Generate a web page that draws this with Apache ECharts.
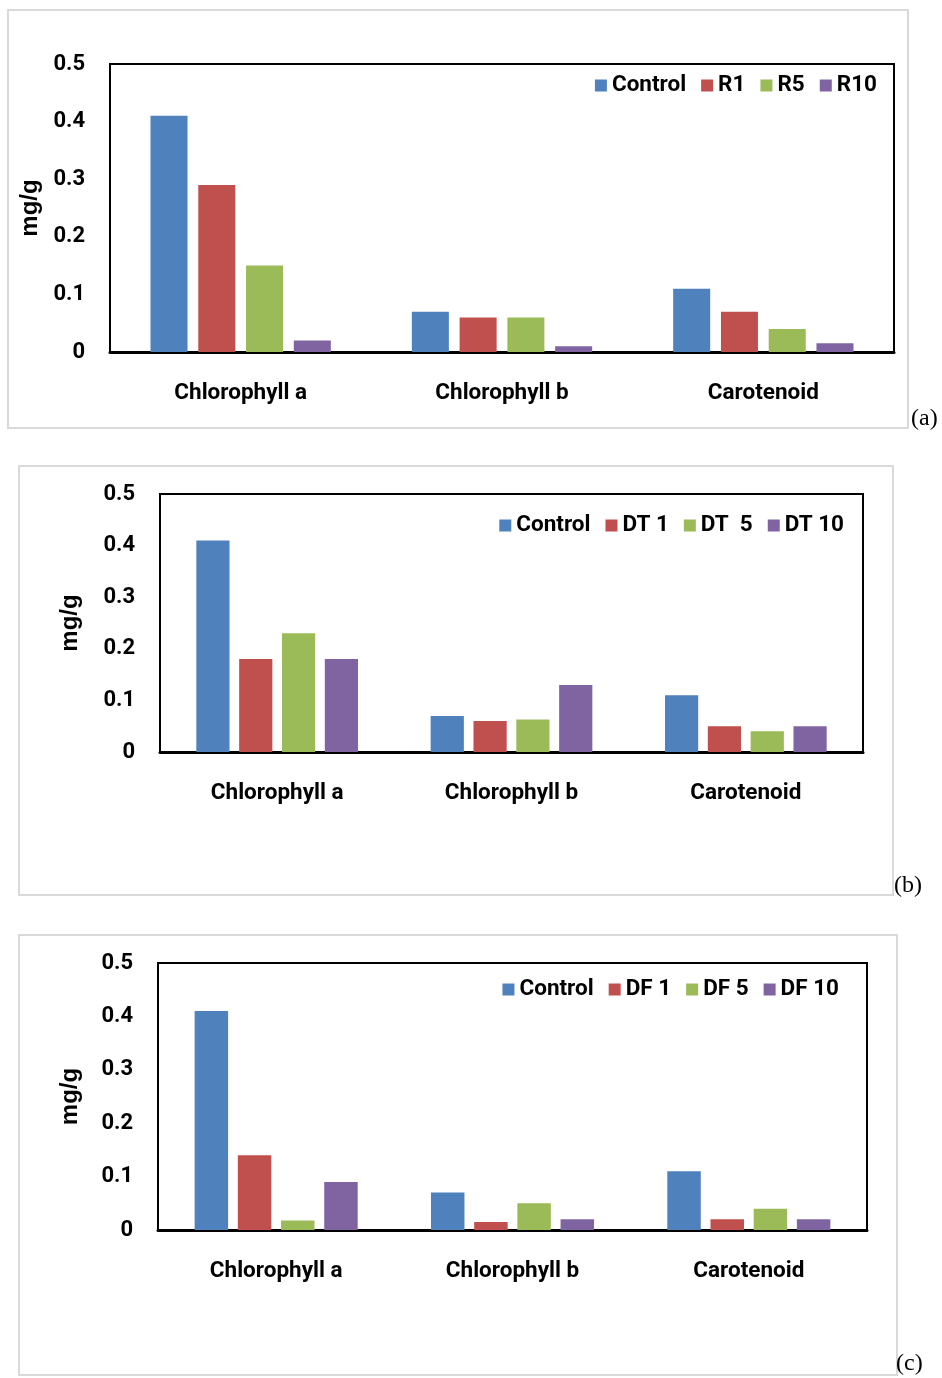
<!DOCTYPE html>
<html>
<head>
<meta charset="utf-8">
<script src="https://cdn.jsdelivr.net/npm/echarts@6/dist/echarts.min.js"></script>
<style>
  html, body { margin: 0; padding: 0; background: #fff; }
  #chart { width: 942px; height: 1378px; }
</style>
</head>
<body>
<div id="chart"></div>
<script>
// categories and series
const categories = ['Chlorophyll a', 'Chlorophyll b', 'Carotenoid'];
const colors = ['#4F81BD', '#C0504D', '#9BBB59', '#8064A2'];

const namesA = ['Control', 'R1', 'R5', 'R10'];
const controlA = [0.41, 0.07, 0.11];
const r1 = [0.29, 0.06, 0.07];
const r5 = [0.15, 0.06, 0.04];
const r10 = [0.02, 0.01, 0.015];

const namesB = ['Control', 'DT 1', 'DT  5', 'DT 10'];
const controlB = [0.41, 0.07, 0.11];
const dt1 = [0.18, 0.06, 0.05];
const dt5 = [0.23, 0.063, 0.04];
const dt10 = [0.18, 0.13, 0.05];

const namesC = ['Control', 'DF 1', 'DF 5', 'DF 10'];
const controlC = [0.41, 0.07, 0.11];
const df1 = [0.14, 0.015, 0.02];
const df5 = [0.018, 0.05, 0.04];
const df10 = [0.09, 0.02, 0.02];

const yMin = 0, yMax = 0.5, yStep = 0.1;
const panelTags = ['(a)', '(b)', '(c)'];

const labelFont = 'Roboto, "Liberation Sans", Arial, sans-serif';

const panels = [
  { names: namesA, data: [controlA, r1, r5, r10],
    grid: { left: 110, top: 64, width: 784, height: 288 },
    legend: { right: 60, top: 69 }, nameGap: 67,
    frame: [8, 10, 900, 418], tag: [911, 407] },
  { names: namesB, data: [controlB, dt1, dt5, dt10],
    grid: { left: 160, top: 494, width: 703, height: 258 },
    legend: { right: 93, top: 509 }, nameGap: 78,
    frame: [19, 466, 874, 429], tag: [894, 874] },
  { names: namesC, data: [controlC, df1, df5, df10],
    grid: { left: 158, top: 963, width: 709, height: 267 },
    legend: { right: 98, top: 973 }, nameGap: 76,
    frame: [19, 935, 878, 440], tag: [896, 1352] }
];

const chart = echarts.init(document.getElementById('chart'));

const option = {
  animation: false,
  backgroundColor: '#fff',
  grid: [], xAxis: [], yAxis: [], legend: [], series: [], graphic: []
};

panels.forEach((p, i) => {
  option.grid.push(Object.assign({
    show: true, borderColor: '#000', borderWidth: 2, backgroundColor: 'transparent'
  }, p.grid));

  option.xAxis.push({
    type: 'category', gridIndex: i, data: categories,
    axisTick: { show: false },
    axisLine: { lineStyle: { color: '#000', width: 3 } },
    axisLabel: { color: '#000', fontFamily: labelFont, fontWeight: 'bold', fontSize: 22.5, margin: 30 }
  });

  option.yAxis.push({
    type: 'value', gridIndex: i, min: yMin, max: yMax, interval: yStep,
    name: 'mg/g', nameLocation: 'middle', nameRotate: 90, nameGap: p.nameGap,
    nameTextStyle: { color: '#000', fontFamily: '"Liberation Sans", Arial, sans-serif', fontWeight: 'bold', fontSize: 24 },
    splitLine: { show: false },
    axisTick: { show: false },
    axisLine: { show: false },
    axisLabel: { color: '#000', fontFamily: labelFont, fontWeight: 'bold', fontSize: 22, margin: 25,
      formatter: v => v === 0 ? '0' : v.toFixed(1) }
  });

  option.legend.push(Object.assign({
    data: p.names, icon: 'rect', itemWidth: 12, itemHeight: 12, itemGap: 15,
    textStyle: { color: '#000', fontFamily: labelFont, fontWeight: 'bold', fontSize: 22.5 },
    selectedMode: false
  }, p.legend));

  p.names.forEach((n, k) => {
    option.series.push({
      type: 'bar', name: n, xAxisIndex: i, yAxisIndex: i, data: p.data[k],
      itemStyle: { color: colors[k] },
      barGap: '29%', barCategoryGap: '31%'
    });
  });

  option.graphic.push({
    type: 'rect', silent: true, z: -1,
    shape: { x: p.frame[0], y: p.frame[1], width: p.frame[2], height: p.frame[3] },
    style: { fill: 'none', stroke: '#d9d9d9', lineWidth: 2 }
  });
  option.graphic.push({
    type: 'text', silent: true, x: p.tag[0], y: p.tag[1],
    style: { text: panelTags[i], fill: '#000', font: '24px "Liberation Serif", "Times New Roman", serif' }
  });
});

chart.setOption(option);
</script>
</body>
</html>
